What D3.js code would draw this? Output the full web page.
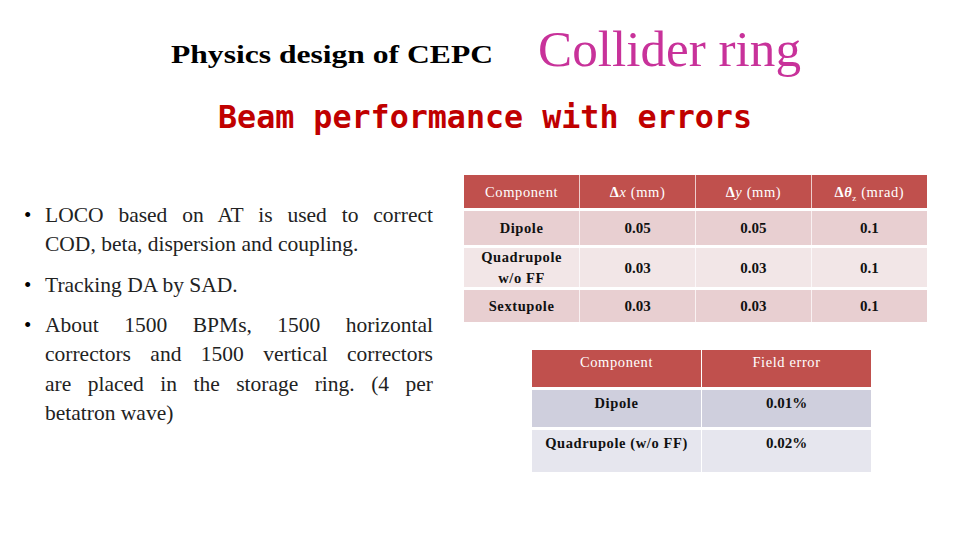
<!DOCTYPE html>
<html>
<head>
<meta charset="utf-8">
<script src="https://cdn.jsdelivr.net/npm/d3@7"></script>
<style>
  body { margin: 0; background: #fff; }
  svg { display: block; }
</style>
</head>
<body>
<svg id="slide" width="960" height="540"></svg>
<script>
// table 1: alignment errors
var alignHeader = ["Component", "\u0394x (mm)", "\u0394y (mm)", "\u0394\u03B8z (mrad)"];
var alignComponents = ["Dipole", "Quadrupole\nw/o FF", "Sextupole"];
var alignDx = ["0.05", "0.03", "0.03"];
var alignDy = ["0.05", "0.03", "0.03"];
var alignDtheta = ["0.1", "0.1", "0.1"];

// table 2: field errors
var fieldHeader = ["Component", "Field error"];
var fieldComponents = ["Dipole", "Quadrupole (w/o FF)"];
var fieldErrors = ["0.01%", "0.02%"];

var bullets = [
  ["LOCO based on AT is used to correct", "COD, beta, dispersion and coupling."],
  ["Tracking DA by SAD."],
  ["About 1500 BPMs, 1500 horizontal", "correctors and 1500 vertical correctors", "are placed in the storage ring. (4 per", "betatron wave)"]
];
var bulletY = [222, 292, 332];

var svg = d3.select("#slide");
var serif = "'Liberation Serif', Tinos, 'Times New Roman', 'DejaVu Serif', serif";

// titles
svg.append("text").attr("x", 171).attr("y", 63)
  .attr("font-family", serif).attr("font-weight", "bold").attr("font-size", 26)
  .attr("textLength", 322).attr("lengthAdjust", "spacingAndGlyphs")
  .text("Physics design of CEPC");
svg.append("text").attr("x", 538).attr("y", 66)
  .attr("font-family", serif).attr("font-size", 50).attr("fill", "#C8329A")
  .attr("textLength", 263).attr("lengthAdjust", "spacingAndGlyphs")
  .text("Collider ring");
svg.append("text").attr("x", 218).attr("y", 128)
  .attr("font-family", "'DejaVu Sans Mono', monospace").attr("font-weight", "bold")
  .attr("font-size", 32).attr("fill", "#C00000")
  .attr("textLength", 534).attr("lengthAdjust", "spacingAndGlyphs")
  .text("Beam performance with errors");

// bullets, justified by word spacing
bullets.forEach(function(lines, i) {
  svg.append("text").attr("x", 24).attr("y", bulletY[i])
    .attr("font-family", serif).attr("font-size", 21).text("\u2022");
  lines.forEach(function(line, j) {
    var t = svg.append("text").attr("x", 45).attr("y", bulletY[i] + j * 29.3)
      .attr("font-family", serif).attr("font-size", 21.5).attr("fill", "#222")
      .text(line);
    if (j < lines.length - 1) {
      var len = t.node().getComputedTextLength();
      var spaces = line.split(" ").length - 1;
      var ws = Math.max(0, (388 - len) / spaces);
      t.attr("word-spacing", ws);
    }
  });
});

function drawTable(opts) {
  var x = d3.scaleBand().domain(d3.range(opts.header.length))
    .range([opts.x0, opts.x1]).paddingInner(opts.gap);
  var heights = opts.rowHeights;
  var ys = [opts.y0];
  heights.forEach(function(h) { ys.push(ys[ys.length - 1] + h); });
  var rows = [opts.header].concat(opts.rows);
  var g = svg.append("g");
  rows.forEach(function(row, r) {
    row.forEach(function(cell, c) {
      var top = ys[r] + (r > 0 ? 3 : 0), h = heights[r] - (r > 0 ? 3 : 0);
      g.append("rect").attr("x", x(c)).attr("y", top)
        .attr("width", x.bandwidth()).attr("height", h)
        .attr("fill", r === 0 ? "#C0504D" : opts.fills[(r - 1) % opts.fills.length]);
      var lines = cell.split("\n");
      var cy = opts.textY ? top + opts.textY[r] : top + h / 2;
      lines.forEach(function(line, k) {
        var t = g.append("text").attr("x", x(c) + x.bandwidth() / 2)
          .attr("y", cy + (k - (lines.length - 1) / 2) * 21 + 5)
          .attr("text-anchor", "middle").attr("font-family", serif)
          .attr("font-size", r === 0 || c === 0 ? 14.5 : 15)
          .attr("font-weight", r === 0 ? "normal" : "bold")
          .attr("letter-spacing", r === 0 || c === 0 ? 0.6 : 0)
          .attr("fill", r === 0 ? "#fff" : "#111");
        if (r === 0 && line.indexOf("\u03B8z") >= 0) {
          t.append("tspan").attr("font-weight", "bold").text("\u0394");
          t.append("tspan").attr("font-weight", "bold").attr("font-style", "italic").text("\u03B8");
          t.append("tspan").attr("font-size", 9).attr("dy", 4).text("z");
          t.append("tspan").attr("dy", -4).text(" (mrad)");
        } else if (r === 0 && line[0] === "\u0394") {
          t.append("tspan").attr("font-weight", "bold").text("\u0394");
          t.append("tspan").attr("font-style", "italic").text(line.slice(1, 2));
          t.append("tspan").text(line.slice(2));
        } else {
          t.text(line);
        }
      });
    });
  });
}

drawTable({
  header: alignHeader,
  rows: alignComponents.map(function(c, i) { return [c, alignDx[i], alignDy[i], alignDtheta[i]]; }),
  x0: 464, x1: 927, gap: 0.006, y0: 175,
  rowHeights: [33, 37, 42, 35],
  fills: ["#E8CFD1", "#F2E6E7"]
});

drawTable({
  header: fieldHeader,
  rows: fieldComponents.map(function(c, i) { return [c, fieldErrors[i]]; }),
  x0: 532, x1: 871, gap: 0.006, y0: 350,
  rowHeights: [37, 40, 45],
  fills: ["#CFCFDD", "#E6E6EE"],
  textY: [12, 13, 13]
});
</script>
</body>
</html>
